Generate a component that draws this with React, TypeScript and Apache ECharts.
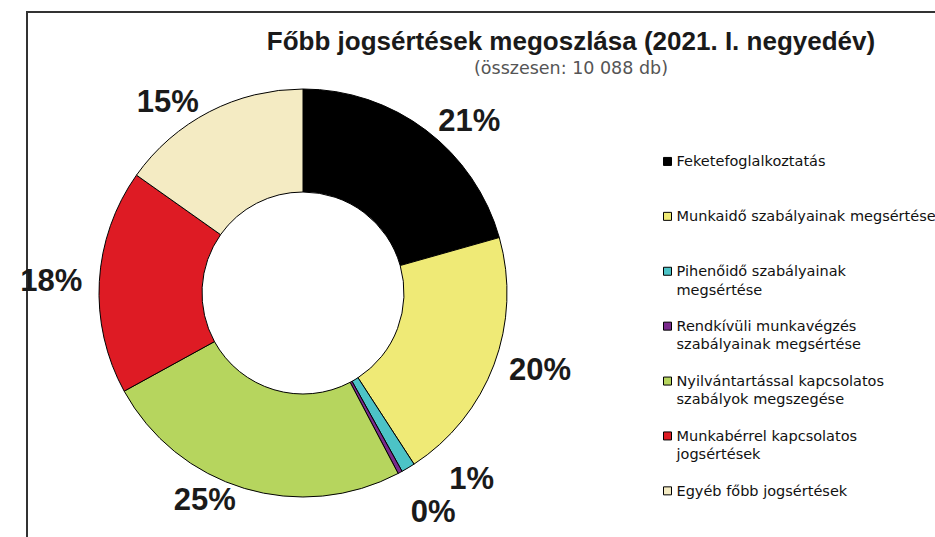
import React, { useEffect, useRef } from "react";
import * as echarts from "echarts";

const titleText = "Főbb jogsértések megoszlása (2021. I. negyedév)";
const subtitleText = "(összesen: 10 088 db)";

const categories = [
  "Feketefoglalkoztatás",
  "Munkaidő szabályainak megsértése",
  "Pihenőidő szabályainak megsértése",
  "Rendkívüli munkavégzés szabályainak megsértése",
  "Nyilvántartással kapcsolatos szabályok megszegése",
  "Munkabérrel kapcsolatos jogsértések",
  "Egyéb főbb jogsértések",
];

const legendLabels = [
  "Feketefoglalkoztatás",
  "Munkaidő szabályainak megsértése",
  "Pihenőidő szabályainak\nmegsértése",
  "Rendkívüli munkavégzés\nszabályainak megsértése",
  "Nyilvántartással kapcsolatos\nszabályok megszegése",
  "Munkabérrel kapcsolatos\njogsértések",
  "Egyéb főbb jogsértések",
];

const counts = [2080, 2040, 110, 35, 2495, 1795, 1533];

const colors = ["#000000", "#EFEA76", "#4CC3C6", "#7A2A8C", "#B6D55E", "#DE1B24", "#F4EBC3"];

export default function App() {
  const ref = useRef<HTMLDivElement>(null);

  useEffect(() => {
    if (!ref.current) return;
    const chart = echarts.init(ref.current, undefined, { renderer: "svg" });
    const total = counts.reduce((a, b) => a + b, 0);

    chart.setOption({
      animation: false,
      backgroundColor: "#ffffff",
      title: {
        text: titleText,
        subtext: subtitleText,
        left: 571,
        top: 27,
        textAlign: "center",
        padding: 0,
        itemGap: 5,
        textStyle: {
          fontFamily: "Liberation Sans",
          fontWeight: "bold",
          fontSize: 26,
          lineHeight: 27,
          color: "#1a1a1a",
        },
        subtextStyle: {
          fontFamily: "DejaVu Sans",
          fontSize: 17.5,
          lineHeight: 18,
          color: "#555555",
        },
      },
      legend: {
        orient: "vertical",
        left: 663,
        top: 134,
        padding: 0,
        itemGap: 0,
        itemWidth: 8,
        itemHeight: 8,
        icon: "rect",
        selectedMode: false,
        data: categories,
        itemStyle: { borderColor: "#000", borderWidth: 1 },
        textStyle: {
          fontFamily: "DejaVu Sans",
          fontSize: 14.5,
          lineHeight: 18.3,
          color: "#111111",
        },
        formatter: (name: string) => {
          const i = categories.indexOf(name);
          const lines = legendLabels[i].split("\n");
          return ["", lines[0], lines[1] ?? ""].join("\n");
        },
      },
      graphic: [
        {
          type: "rect",
          silent: true,
          z: -10,
          shape: { x: 27, y: 12, width: 1000, height: 600 },
          style: { fill: "none", stroke: "#333333", lineWidth: 2 },
        },
      ],
      series: [
        {
          type: "pie",
          center: [303, 293],
          radius: [101, 204],
          startAngle: 90,
          clockwise: true,
          avoidLabelOverlap: true,
          data: categories.map((name, i) => ({
            name,
            value: counts[i],
            itemStyle: { color: colors[i] },
          })),
          itemStyle: { borderColor: "#000", borderWidth: 1 },
          emphasis: { disabled: true },
          label: {
            show: true,
            position: "outside",
            fontFamily: "Liberation Sans",
            fontWeight: "bold",
            fontSize: 31,
            color: "#1a1a1a",
            formatter: (p: any) => Math.round((p.value / total) * 100) + "%",
          },
          labelLine: { show: false, length: 12, length2: 0 },
        },
      ],
    });

    return () => chart.dispose();
  }, []);

  return (
    <div
      ref={ref}
      style={{ position: "absolute", left: 0, top: 0, width: 935, height: 537 }}
    />
  );
}
